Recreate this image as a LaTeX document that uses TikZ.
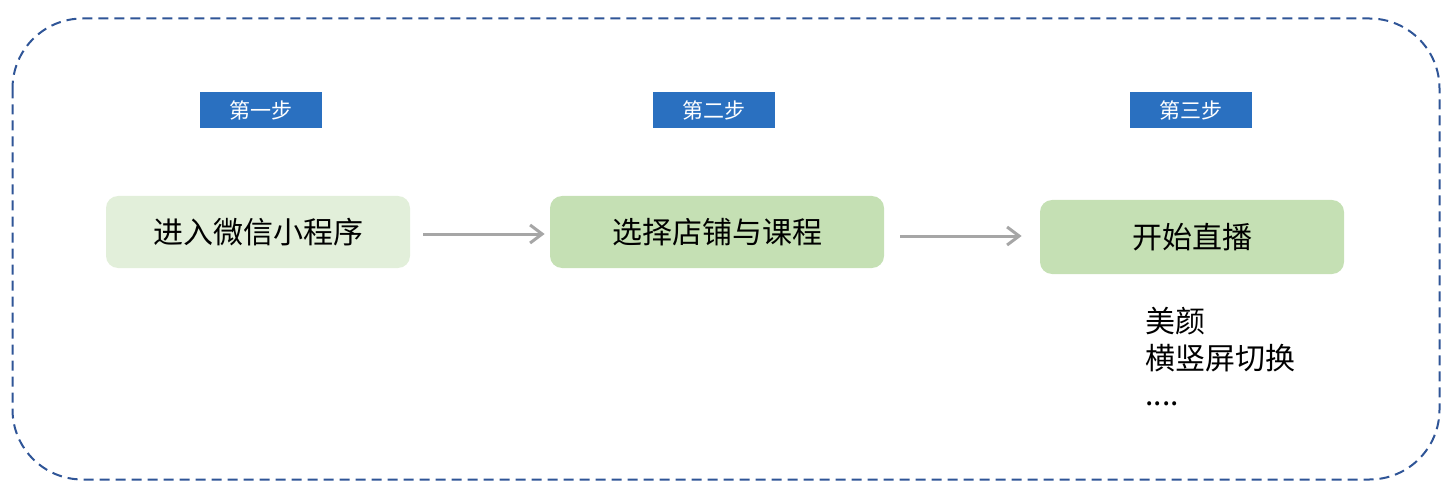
\documentclass[tikz,border=0pt]{standalone}
\usepackage{fontspec}
\setmainfont{Noto Sans CJK SC}
\usetikzlibrary{arrows.meta}
\definecolor{frameblue}{RGB}{47,85,151}
\definecolor{stepblue}{RGB}{42,112,192}
\definecolor{lightgreen}{RGB}{226,239,218}
\definecolor{midgreen}{RGB}{197,224,180}
\definecolor{arrowgray}{RGB}{166,166,166}
\tikzset{
	steplabel/.style = {fill=stepblue, text=white, minimum width=61pt, minimum height=18pt, inner sep=0pt, font=\fontsize{10.5}{12}\selectfont},
	stagebox/.style = {rounded corners=6pt, minimum height=36pt, inner sep=0pt, font=\fontsize{15}{18}\selectfont},
	flow/.style = {draw=arrowgray, line width=1.5pt, -{Straight Barb[length=6pt, width=9pt, line width=1.5pt]}}
}

\begin{document}
\begin{tikzpicture}[x=0.5pt, y=-0.5pt]
	\useasboundingbox (0,0) rectangle (1452,492);
	\draw[frameblue, line width=1pt, dash pattern=on 5pt off 3pt, rounded corners=35pt] (12.5,18.5) rectangle (1439.5,479.5);
	\node[steplabel] (s1) at (261,110) {第一步};
	\node[steplabel] (s2) at (714,110) {第二步};
	\node[steplabel] (s3) at (1191,110) {第三步};
	\node[stagebox, fill=lightgreen, minimum width=152pt] (b1) at (258,232) {进入微信小程序};
	\node[stagebox, fill=midgreen, minimum width=167pt] (b2) at (717,232) {选择店铺与课程};
	\node[stagebox, fill=midgreen, minimum width=152pt, minimum height=37pt] (b3) at (1192,237) {开始直播};
	\draw[flow] ([xshift=6.5pt, yshift=-1pt]b1.east) -- ([xshift=-2.5pt, yshift=-1pt]b2.west);
	\draw[flow] ([xshift=8pt, yshift=-2pt]b2.east) -- ([xshift=-9pt, yshift=0.5pt]b3.west);
	\node[anchor=north west, align=left, inner sep=0pt, font=\fontsize{15}{18.25}\selectfont] (feat) at (1145,307) {美颜\\横竖屏切换\\....};
\end{tikzpicture}
\end{document}
